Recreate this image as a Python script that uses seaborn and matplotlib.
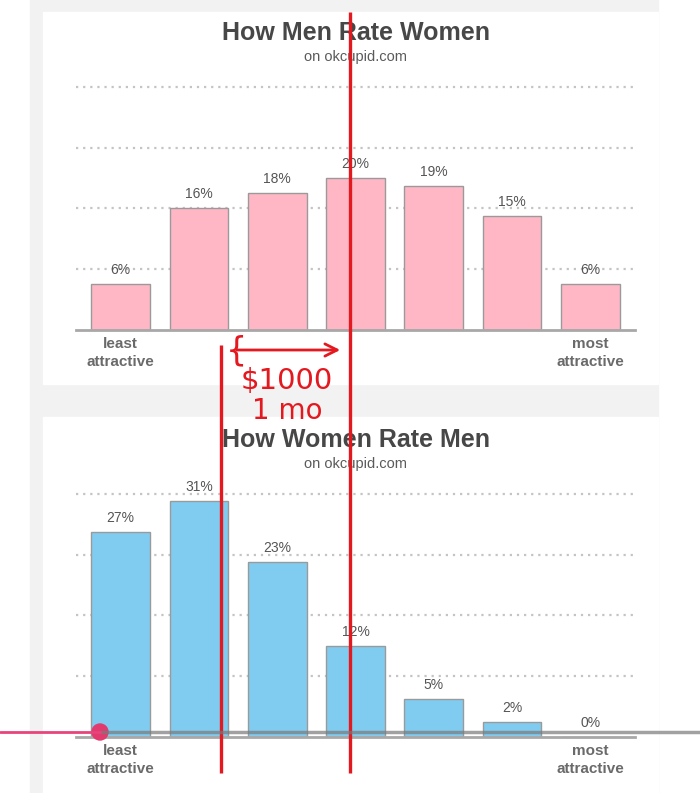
import numpy as np
import pandas as pd
import seaborn as sns
import matplotlib.pyplot as plt
from matplotlib.patches import Rectangle, Circle

ratings = ["1", "2", "3", "4", "5", "6", "7"]
tick_labels = ["least\nattractive", "", "", "", "", "", "most\nattractive"]
men_rate_women = [6, 16, 18, 20, 19, 15, 6]
women_rate_men = [27, 31, 23, 12, 5, 2, 0]
grid_levels = [8, 16, 24, 32]

W, H = 700, 793

sns.set_style("white")
plt.rcParams['font.family'] = ['Liberation Sans', 'DejaVu Sans']


def px_box(left, top, right, bottom):
    # pixel box -> figure fraction [l, b, w, h]
    return [left / W, 1 - bottom / H, (right - left) / W, (bottom - top) / H]


def draw_panel(ax, values, color, title, title_y):
    df = pd.DataFrame({"rating": ratings, "pct": values})
    sns.barplot(data=df, x="rating", y="pct", ax=ax, color=color,
                edgecolor="#9a9a9a", linewidth=1.0, width=0.75,
                saturation=1)
    ax.set_xlim(-0.57, len(ratings) - 0.43)
    ax.set_ylim(0, 33)
    ax.set_yticks(grid_levels)
    ax.set_yticklabels([])
    ax.yaxis.grid(True, color="#c4c4c4", linestyle=(0, (1, 2.2)), lw=1.6)
    ax.set_axisbelow(True)
    ax.set_xticks(range(len(ratings)))
    ax.set_xticklabels(tick_labels, fontsize=11, fontweight="bold",
                       color="#6a6a6a", linespacing=1.4)
    ax.tick_params(axis="both", length=0, pad=5)
    ax.set_xlabel("")
    ax.set_ylabel("")
    for s in ["top", "left", "right"]:
        ax.spines[s].set_visible(False)
    ax.spines["bottom"].set_color("#a8a8a8")
    ax.spines["bottom"].set_linewidth(2)
    ax.set_facecolor("none")
    ax.bar_label(ax.containers[0], labels=[f"{v}%" for v in values],
                 padding=5, fontsize=10, color="#555555")
    fig.text(356 / W, 1 - title_y / H, title, ha="center", va="center",
             fontsize=18, fontweight="bold", color="#474747")
    fig.text(356 / W, 1 - (title_y + 24) / H, "on okcupid.com", ha="center",
             va="center", fontsize=10.5, color="#5a5a5a")


fig = plt.figure(figsize=(W / 100, H / 100), dpi=100)

# background frame and white panels
bg = fig.add_axes([0, 0, 1, 1], zorder=0)
bg.set_xlim(0, W)
bg.set_ylim(H, 0)
bg.axis("off")
bg.add_patch(Rectangle((30, 0), 628, H, color="#f2f2f2"))
bg.add_patch(Rectangle((43, 12), 615, 372, color="white"))
bg.add_patch(Rectangle((43, 417), 615, 376, color="white"))

unit = 7.6
top_ax = fig.add_axes(px_box(76, 330 - 33 * unit, 635, 330), zorder=1)
bot_ax = fig.add_axes(px_box(76, 737 - 33 * unit, 635, 737), zorder=1)

draw_panel(top_ax, men_rate_women, "#ffb7c5", "How Men Rate Women", 33)
draw_panel(bot_ax, women_rate_men, "#80ccf0", "How Women Rate Men", 440)

# hand-drawn annotations on top
ov = fig.add_axes([0, 0, 1, 1], zorder=5)
ov.set_xlim(0, W)
ov.set_ylim(H, 0)
ov.axis("off")
red = "#e3191f"
ov.plot([350, 350], [12, 773], color=red, lw=2.4, solid_capstyle="butt")
ov.plot([221, 221], [345, 773], color=red, lw=2.4, solid_capstyle="butt")
ov.annotate("", xy=(343, 350), xytext=(234, 350),
            arrowprops=dict(arrowstyle="->", color=red, lw=2,
                            mutation_scale=22))
ov.text(236, 351, "{", color=red, fontsize=24, ha="center", va="center",
        family="DejaVu Sans")
ov.text(287, 381, r"\$1000", color=red, fontsize=21, ha="center",
        va="center", family="DejaVu Sans")
ov.text(287, 411, "1 mo", color=red, fontsize=20, ha="center",
        va="center", family="DejaVu Sans")

# video progress bar
ov.plot([100, 700], [732, 732], color="#7a7a7a", lw=2.5, alpha=0.7)
ov.plot([0, 100], [732, 732], color="#e8437a", lw=2)
ov.add_patch(Circle((100, 732), 8, color="#e23a6e"))

fig.savefig("out.png", dpi=100)
